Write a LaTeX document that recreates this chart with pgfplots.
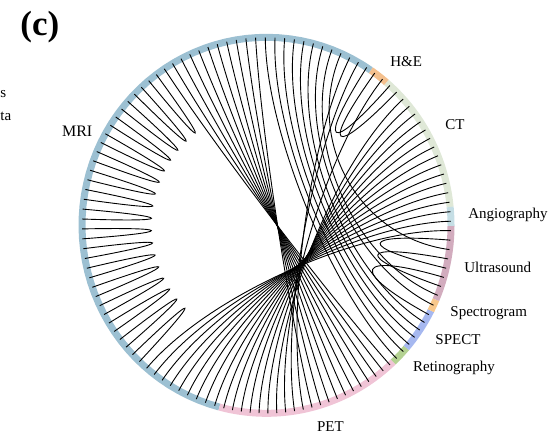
\documentclass[border=0pt]{standalone}
\usepackage{pgfplots}
\pgfplotsset{compat=1.18}
\usepackage{pgfplotstable}
\usepackage{fontspec}
\setmainfont{Liberation Serif}

% plot handler: every 4 points = one cubic Bezier (start, control, control, end)
\makeatletter
\newcount\bz@count
\pgfdeclareplothandler{\pgfplothandlerbezierfour}{}{%
  start={\global\bz@count=0\relax},
  point macro=\bz@point,
  jump={\global\bz@count=0\relax},
}
\def\bz@point#1{%
  \global\advance\bz@count by 1\relax
  \ifcase\bz@count
  \or \pgfpathmoveto{#1}%
  \or \pgf@process{#1}\xdef\bz@ax{\the\pgf@x}\xdef\bz@ay{\the\pgf@y}%
  \or \pgf@process{#1}\xdef\bz@bx{\the\pgf@x}\xdef\bz@by{\the\pgf@y}%
  \or \pgfpathcurveto{\pgfqpoint{\bz@ax}{\bz@ay}}{\pgfqpoint{\bz@bx}{\bz@by}}{#1}\global\bz@count=0\relax
  \fi}
\tikzset{bezier four/.code={\let\tikz@plot@handler=\pgfplothandlerbezierfour}}
\makeatother

\definecolor{cMRI}{RGB}{156,192,210}
\definecolor{cPET}{RGB}{240,196,214}
\definecolor{cCT}{RGB}{223,232,215}
\definecolor{cHE}{RGB}{244,192,142}
\definecolor{cAng}{RGB}{197,222,229}
\definecolor{cUS}{RGB}{210,172,190}
\definecolor{cSpec}{RGB}{248,200,140}
\definecolor{cSPECT}{RGB}{166,184,240}
\definecolor{cRet}{RGB}{180,210,146}

% chord end angles (degrees)
\pgfplotstableread{
a1 a2
126.67 129.69
132.72 135.74
138.76 141.79
144.81 147.84
150.86 153.88
156.91 159.93
162.96 165.98
169.01 172.03
175.05 178.08
181.10 184.13
187.15 190.17
193.20 196.22
199.25 202.27
205.30 208.32
211.34 214.37
217.39 220.42
223.44 226.47
48.04 57.11
45.13 54.08
355.47 346.81
349.70 341.03
343.92 331.63
4.15 235.54
1.25 232.51
358.36 229.49
90.38 314.88
87.35 317.83
84.33 320.67
81.30 323.41
78.28 326.15
75.26 328.89
72.23 334.85
69.21 338.14
66.18 352.58
123.64 312.01
120.62 309.24
117.59 306.47
114.57 303.70
111.55 300.92
108.52 298.15
105.50 295.38
102.47 292.61
99.45 289.84
96.42 287.07
93.40 284.29
63.16 281.52
60.13 278.75
51.03 275.98
42.20 273.21
39.27 270.44
36.34 267.67
33.41 264.90
30.49 262.12
27.56 259.35
24.63 256.58
21.70 253.68
18.77 250.66
15.84 247.63
12.92 244.61
9.99 241.59
7.06 238.56
}\chords

\pgfplotsset{
  ring/.style={line width=3.5pt, samples=60, mark=none},
  chord/.style={bezier four, draw=black, line width=0.45pt, mark=none},
}
\tikzset{lab/.style={anchor=base west, inner sep=0pt, font=\fontsize{7.5}{9}\selectfont}}

\begin{document}
\begin{tikzpicture}
\pgfplotstablegetrowsof{\chords}
\pgfmathtruncatemacro\nlast{\pgfplotsretval-1}
\begin{axis}[
  scale only axis, width=275pt, height=220.5pt,
  xmin=-1.4444, xmax=1.5366, ymin=-1.1473, ymax=1.1984,
  hide axis, clip=false,
]
% ring segments (start and end angle of each modality)
\addplot[ring, cCT,    domain=5.6:49.5]    ({cos(x)},{sin(x)});
\addplot[ring, cHE,    domain=49.5:55.6]   ({cos(x)},{sin(x)});
\addplot[ring, cMRI,   domain=55.6:255.2]  ({cos(x)},{sin(x)});
\addplot[ring, cPET,   domain=255.2:313.4] ({cos(x)},{sin(x)});
\addplot[ring, cRet,   domain=313.4:319.3] ({cos(x)},{sin(x)});
\addplot[ring, cSPECT, domain=319.3:333.0] ({cos(x)},{sin(x)});
\addplot[ring, cSpec,  domain=333.0:336.7] ({cos(x)},{sin(x)});
\addplot[ring, cUS,    domain=336.7:359.8] ({cos(x)},{sin(x)});
\addplot[ring, cAng,   domain=359.8:365.6] ({cos(x)},{sin(x)});
% chords
\pgfplotsforeachungrouped \i in {0,...,\nlast}{%
  \pgfplotstablegetelem{\i}{a1}\of\chords \let\aA\pgfplotsretval
  \pgfplotstablegetelem{\i}{a2}\of\chords \let\aB\pgfplotsretval
  \pgfmathsetmacro\xa{cos(\aA)}\pgfmathsetmacro\ya{sin(\aA)}%
  \pgfmathsetmacro\xb{cos(\aB)}\pgfmathsetmacro\yb{sin(\aB)}%
  \pgfmathsetmacro\xc{0.5*\xa}\pgfmathsetmacro\yc{0.5*\ya}%
  \pgfmathsetmacro\xd{0.5*\xb}\pgfmathsetmacro\yd{0.5*\yb}%
  \edef\doplot{\noexpand\addplot[chord] coordinates {(\xa,\ya) (\xc,\yc) (\xd,\yd) (\xb,\yb)};}%
  \doplot
}
% labels
\node[lab] at (axis cs:0.6694,0.8436) {H\&E};
\node[lab] at (axis cs:0.9675,0.5080) {CT};
\node[lab] at (axis cs:1.0921,0.0388) {Angiography};
\node[lab] at (axis cs:1.0705,-0.2521) {Ultrasound};
\node[lab] at (axis cs:0.9946,-0.4862) {Spectrogram};
\node[lab] at (axis cs:0.9133,-0.6314) {SPECT};
\node[lab] at (axis cs:0.7924,-0.7787) {Retinography};
\node[lab] at (axis cs:0.2721,-1.0979) {PET};
\node[lab, font=\fontsize{8}{9.6}\selectfont] at (axis cs:-1.1100,0.4745) {MRI};
\node[anchor=base west, inner sep=0pt, font=\fontsize{17.5}{20}\selectfont\bfseries] at (axis cs:-1.336,1.0096) {(c)};
\node[lab] at (axis cs:-1.4444,0.6824) {s};
\node[lab] at (axis cs:-1.4444,0.5601) {ta};
\end{axis}
\pgfresetboundingbox
\path[use as bounding box] (current axis.south west) rectangle (current axis.north east);
\end{tikzpicture}
\end{document}
